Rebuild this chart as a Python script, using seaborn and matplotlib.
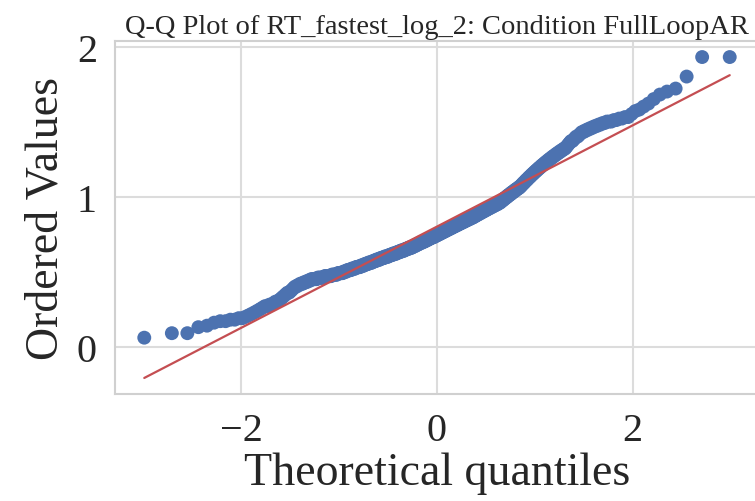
import numpy as np
import matplotlib
matplotlib.use("Agg")
import matplotlib.pyplot as plt
import seaborn as sns
from statistics import NormalDist

# Ordered sample values, as a frequency table (value level, count)
value_levels = [
    0.06, 0.09, 0.13, 0.14, 0.16, 0.17, 0.18, 0.19, 0.20, 0.21, 0.22, 0.23, 0.24, 0.25,
    0.26, 0.27, 0.28, 0.29, 0.30, 0.31, 0.32, 0.33, 0.34, 0.35, 0.36, 0.37, 0.38, 0.39,
    0.40, 0.41, 0.42, 0.43, 0.44, 0.45, 0.46, 0.47, 0.48, 0.49, 0.50,
    0.51, 0.52, 0.53, 0.54, 0.55, 0.56, 0.57, 0.58,
    0.59, 0.60, 0.61, 0.62, 0.63, 0.64, 0.65, 0.66,
    0.67, 0.68, 0.69, 0.70, 0.71, 0.72, 0.73, 0.74, 0.75,
    0.76, 0.77, 0.78, 0.79, 0.80, 0.81, 0.82, 0.83, 0.84, 0.85, 0.86,
    0.87, 0.88, 0.89, 0.90, 0.91, 0.92, 0.93, 0.94, 0.95, 0.96,
    0.97, 0.98, 0.99, 1.00, 1.01, 1.02, 1.03, 1.04, 1.05, 1.06,
    1.07, 1.08, 1.09, 1.10, 1.11, 1.12, 1.13, 1.14, 1.15,
    1.16, 1.17, 1.18, 1.19, 1.20, 1.21, 1.22, 1.23, 1.24, 1.25, 1.26, 1.27, 1.28, 1.29,
    1.30, 1.31, 1.32, 1.33,
    1.34, 1.35, 1.36, 1.37, 1.38, 1.39, 1.40, 1.41, 1.42,
    1.43, 1.44, 1.45, 1.46, 1.47, 1.48, 1.49, 1.50, 1.51, 1.52, 1.53,
    1.55, 1.57, 1.58, 1.60, 1.62, 1.65, 1.68, 1.70, 1.72, 1.80, 1.93,
]
value_counts = [
    1, 2, 1, 1, 1, 2, 2, 2, 1, 1, 1, 1, 1, 1,
    1, 2, 2, 1, 2, 1, 1, 1, 1, 1, 2, 1, 1, 1,
    2, 2, 3, 3, 3, 6, 7, 8, 7, 7, 5,
    6, 6, 7, 6, 6, 7, 6, 7,
    7, 8, 7, 8, 7, 8, 7, 8,
    6, 6, 6, 7, 6, 6, 7, 6, 6,
    6, 6, 6, 6, 6, 6, 6, 6, 6, 6, 6,
    5, 5, 5, 5, 5, 5, 5, 5, 5, 4,
    3, 3, 3, 3, 3, 3, 3, 3, 3, 3,
    2, 2, 2, 2, 2, 2, 2, 2, 2,
    2, 2, 2, 2, 2, 2, 2, 2, 2, 2, 2, 2, 2, 2,
    2, 2, 2, 1,
    1, 1, 1, 2, 1, 1, 2, 1, 1,
    2, 2, 2, 2, 2, 2, 2, 3, 2, 2, 2,
    1, 1, 1, 1, 1, 1, 1, 1, 1, 1, 2,
]

title = "Q-Q Plot of RT_fastest_log_2: Condition FullLoopAR"
x_label = "Theoretical quantiles"
y_label = "Ordered Values"
x_ticks = [-2, 0, 2]
y_ticks = [0, 1, 2]

ordered = np.repeat(np.array(value_levels), value_counts)
n = len(ordered)

# Filliben's estimate of order-statistic medians (as in scipy.stats.probplot)
m = (np.arange(1, n + 1) - 0.3175) / (n + 0.365)
m[-1] = 0.5 ** (1.0 / n)
m[0] = 1 - m[-1]
nd = NormalDist()
theo = np.array([nd.inv_cdf(p) for p in m])

slope, intercept = np.polyfit(theo, ordered, 1)

sns.set_theme(style="whitegrid")
plt.rcParams["font.family"] = ["Liberation Serif", "DejaVu Serif"]
plt.rcParams["axes.unicode_minus"] = True

fig = plt.figure(figsize=(7.55, 5.02), dpi=100)
ax = fig.add_axes([115 / 755, 107 / 502, 644 / 755, 353 / 502])

sns.scatterplot(x=theo, y=ordered, ax=ax, color="#4C72B0", s=100,
                edgecolor="none", linewidth=0, zorder=3)
line_x = np.array([theo.min(), theo.max()])
sns.lineplot(x=line_x, y=slope * line_x + intercept, ax=ax,
             color="#C44E52", linewidth=1.6, zorder=4)

ax.set_xticks(x_ticks)
ax.set_yticks(y_ticks)
ax.set_xticklabels(["\u22122", "0", "2"])
ax.tick_params(axis="both", labelsize=29, pad=7, colors="#262626")
ax.set_xlabel(x_label, fontsize=33, color="#262626", labelpad=2)
ax.set_ylabel(y_label, fontsize=33, color="#262626", labelpad=7)
ax.set_title(title, fontsize=20.5, color="#262626", pad=6)
ax.grid(True, color="#dcdcdc", linewidth=1.5)
for sp in ax.spines.values():
    sp.set_color("#d0d0d0")
    sp.set_linewidth(1.5)

fig.savefig("out.png", dpi=100)
